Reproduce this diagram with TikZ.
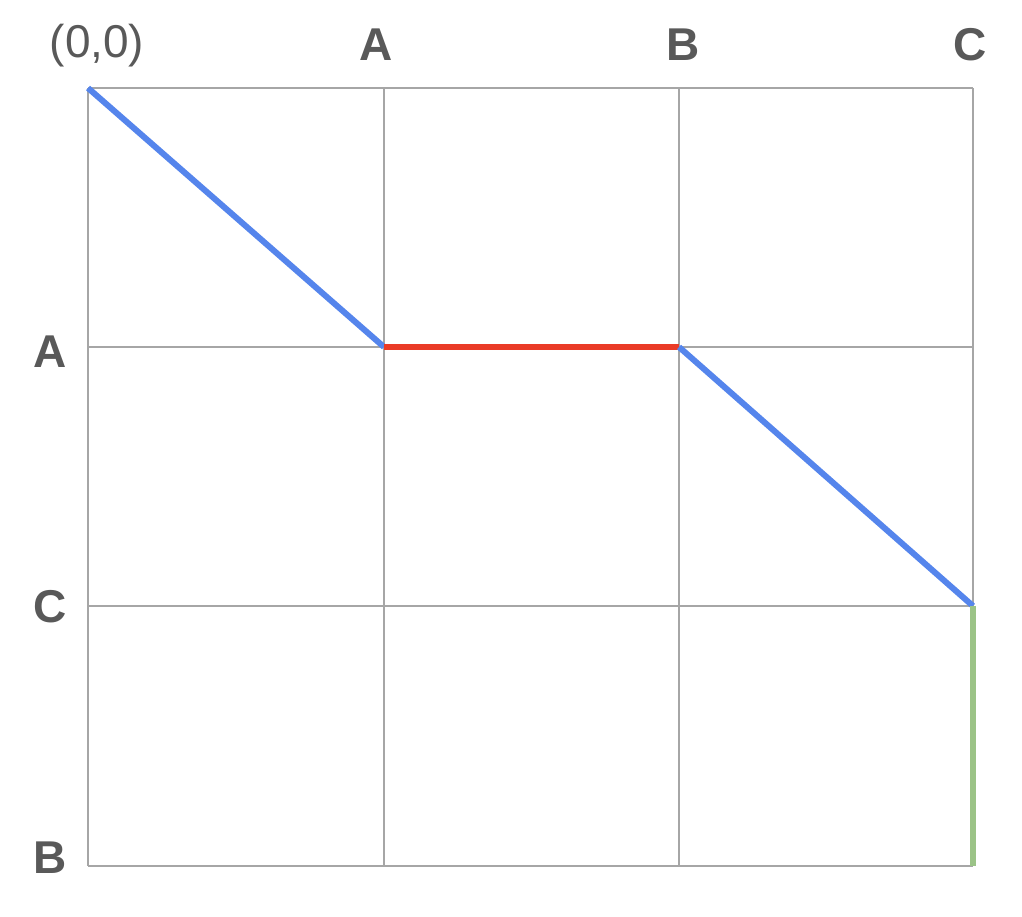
\documentclass[tikz,border=0pt]{standalone}
\usepackage{fontspec}
\setmainfont{Liberation Sans}
\usepackage{tikz}
\usetikzlibrary{positioning}
\definecolor{pathblue}{HTML}{5585EC}
\definecolor{pathred}{HTML}{EA3B27}
\definecolor{pathgreen}{HTML}{9BC387}
\definecolor{labelgray}{HTML}{595959}
\definecolor{gridgray}{HTML}{A6A6A6}

\begin{document}
\begin{tikzpicture}[x=0.5pt, y=-0.5pt,
                    gridline/.style={gridgray, line width=1pt},
                    diag/.style={pathblue, line width=3pt},
                    gap/.style={pathred, line width=3pt},
                    tail/.style={pathgreen, line width=3pt},
                    seqlabel/.style={text=labelgray, font=\fontsize{23}{23}\selectfont\bfseries, inner sep=0}
                    ]
    \useasboundingbox (0,0) rectangle (1022,916);
    %grid
    \foreach \gx in {88,384,679,973}
        \draw[gridline] (\gx,88) -- (\gx,866);
    \foreach \gy in {88,347,606,866}
        \draw[gridline] (88,\gy) -- (973,\gy);

    %alignment points
    \coordinate (P00) at (88,88);
    \coordinate (PAA) at (384,347);
    \coordinate (PBA) at (679,347);
    \coordinate (PCC) at (973,606);
    \coordinate (PCB) at (973,866);

    %labels
    \node[seqlabel, font=\fontsize{23}{23}\selectfont] (origin) at (97,46) {(0,0)};
    \node[seqlabel] (topA) at (376,45) {A};
    \node[seqlabel] (topB) at (683,45) {B};
    \node[seqlabel] (topC) at (970,45) {C};
    \node[seqlabel] (leftA) at (50,352) {A};
    \node[seqlabel] (leftC) at (50,607) {C};
    \node[seqlabel] (leftB) at (50,858) {B};

    %path
    \draw[diag] (P00) -- (PAA);
    \draw[gap] (PAA) -- (PBA);
    \draw[diag] (PBA) -- (PCC);
    \draw[tail] (PCC) -- (PCB);
\end{tikzpicture}
\end{document}
